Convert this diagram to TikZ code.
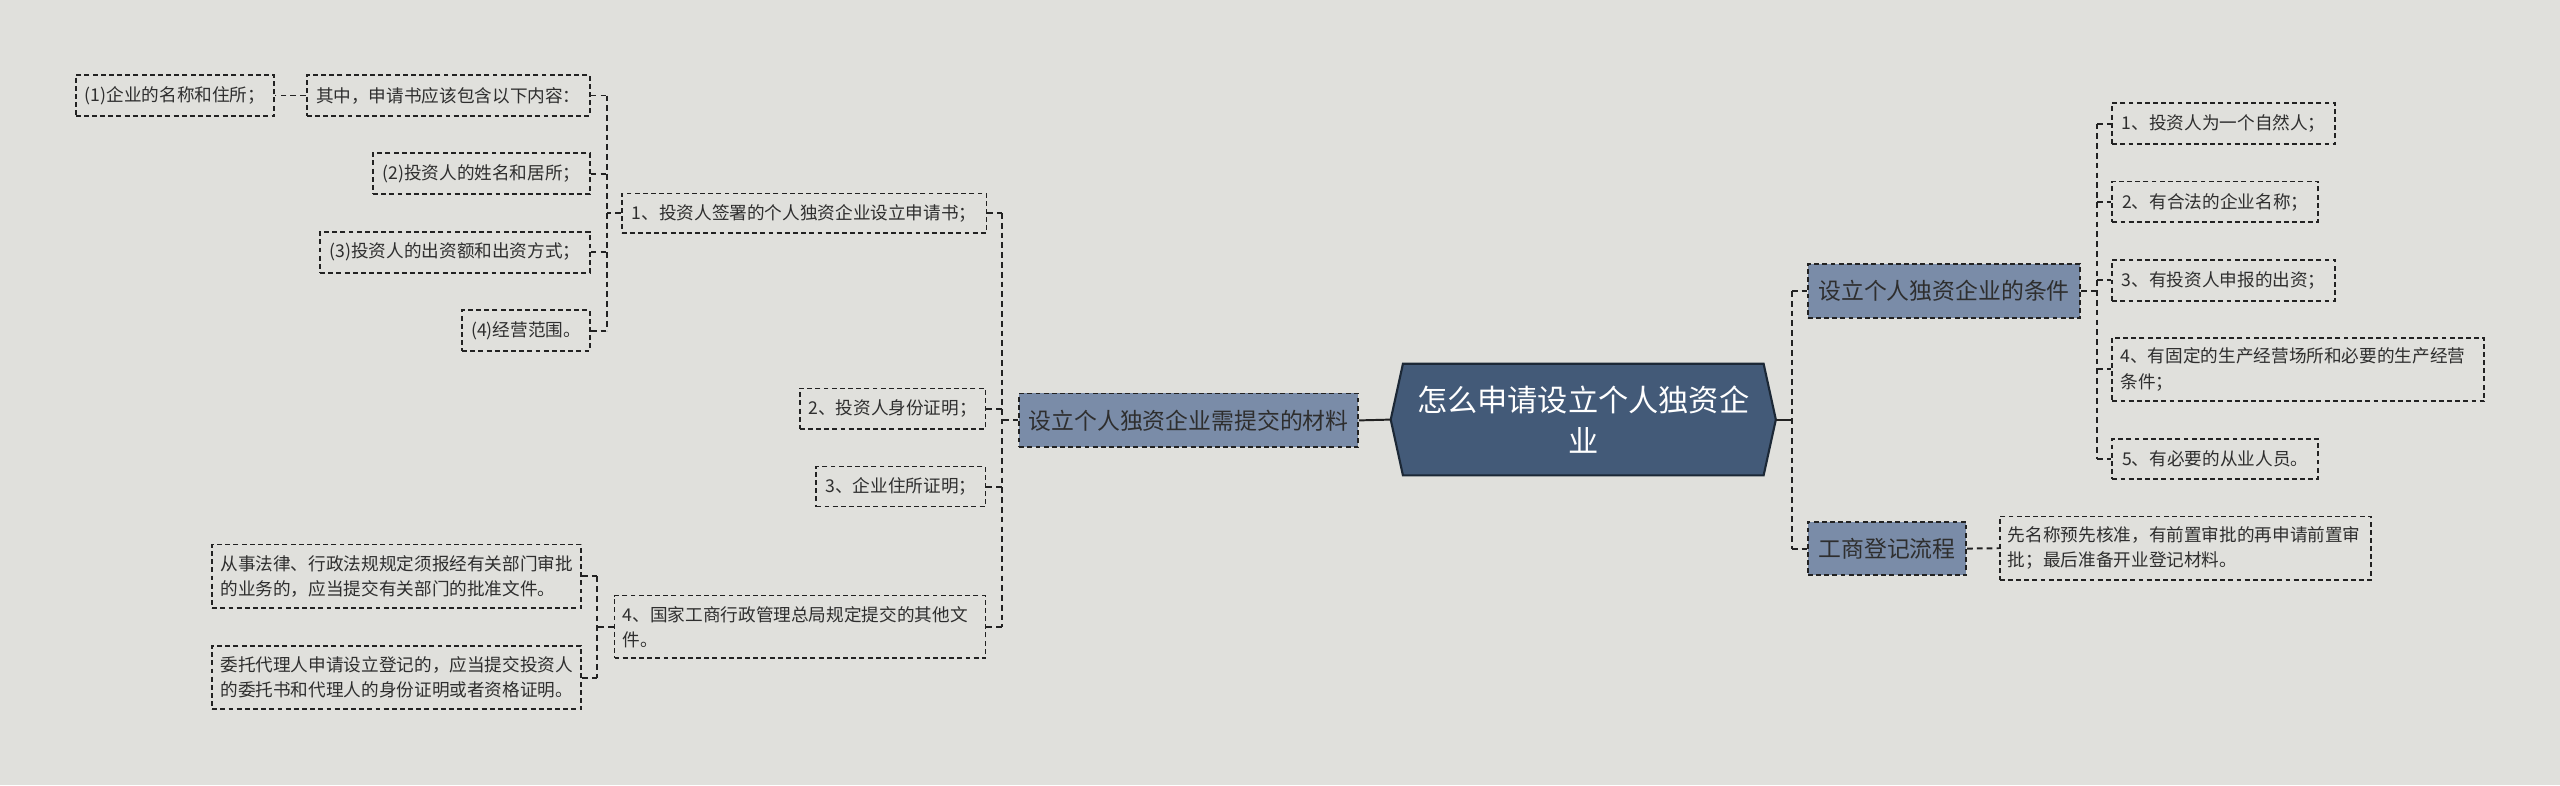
\documentclass[tikz,border=0pt]{standalone}
\usepackage{fontspec}
\setmainfont{Noto Sans CJK SC}
\usetikzlibrary{backgrounds}
\definecolor{bgc}{HTML}{E0E0DC}
\definecolor{linec}{HTML}{222222}
\definecolor{txtc}{HTML}{2E2E2E}
\definecolor{branchc}{HTML}{7A8CA8}
\definecolor{hexc}{HTML}{435A78}
\definecolor{hexline}{HTML}{1C2836}
\tikzset{
  leaf/.style={draw=linec, line width=1.1pt, dash pattern=on 3pt off 2pt, text=txtc,
    font=\fontsize{10.8}{15.5}\selectfont, inner xsep=5pt, inner ysep=0pt, align=center},
  leafml/.style={leaf, align=left},
  branch/.style={draw=linec, line width=1.1pt, dash pattern=on 3pt off 2pt, fill=branchc, text=txtc,
    font=\fontsize{14}{18}\selectfont, inner xsep=5pt, inner ysep=0pt, align=center},
  ctrtext/.style={text=white, font=\fontsize{18.5}{25}\selectfont, align=center, inner sep=0pt},
  conn/.style={draw=linec, line width=1.2pt, dash pattern=on 3.5pt off 2.5pt},
  solidconn/.style={draw=linec, line width=1.2pt},
}
\begin{document}
\begin{tikzpicture}[x=1pt,y=-1pt]
\useasboundingbox (0,0) rectangle (1568,481);
% center
\node[ctrtext, minimum width=235.5pt, minimum height=68pt] (ctr) at (969.75,257) {怎么申请设立个人独资企\\业};
\begin{scope}[on background layer]
  \fill[bgc] (0,0) rectangle (1568,481);
  \draw[fill=hexc, draw=hexline, line width=1.3pt] (ctr.west) -- ([xshift=7.5pt]ctr.north west) -- ([xshift=-7.5pt]ctr.north east) -- (ctr.east) -- ([xshift=-7.5pt]ctr.south east) -- ([xshift=7.5pt]ctr.south west) -- cycle;
\end{scope}
% left branch
\node[branch, minimum width=207.5pt, minimum height=33pt] (mL) at (728,257.5) {设立个人独资企业需提交的材料};
\node[leaf, minimum width=223.5pt, minimum height=24pt] (c1) at (492.5,130.5) {1、投资人签署的个人独资企业设立申请书；};
\node[leaf, minimum width=113.8pt, minimum height=25pt] (c2) at (546.7,250.4) {2、投资人身份证明；};
\node[leaf, minimum width=103.6pt, minimum height=24.5pt] (c3) at (551.8,298) {3、企业住所证明；};
\node[leafml, text width=217pt, minimum width=227.2pt, minimum height=38.4pt] (c4) at (490,384) {4、国家工商行政管理总局规定提交的其他文\\件。};
% children of c1
\node[leaf, minimum width=121.7pt, minimum height=25pt] (la) at (107.2,58.5) {(1)企业的名称和住所；};
\node[leaf, minimum width=173.4pt, minimum height=25pt] (lb) at (274.6,58.5) {其中，申请书应该包含以下内容：};
\node[leaf, minimum width=132.8pt, minimum height=25pt] (lc) at (294.9,106.4) {(2)投资人的姓名和居所；};
\node[leaf, minimum width=165.2pt, minimum height=25pt] (ld) at (278.7,154.5) {(3)投资人的出资额和出资方式；};
\node[leaf, minimum width=78.3pt, minimum height=25pt] (le) at (322.2,202.5) {(4)经营范围。};
% children of c4
\node[leafml, text width=216pt, minimum width=226pt, minimum height=39pt] (d1) at (243,353) {从事法律、行政法规规定须报经有关部门审批\\的业务的，应当提交有关部门的批准文件。};
\node[leafml, text width=216pt, minimum width=226pt, minimum height=39pt] (d2) at (243,415) {委托代理人申请设立登记的，应当提交投资人\\的委托书和代理人的身份证明或者资格证明。};
% right branches
\node[branch, minimum width=167pt, minimum height=33pt] (mR1) at (1190.7,178.3) {设立个人独资企业的条件};
\node[branch, minimum width=97pt, minimum height=32.6pt] (mR2) at (1155.8,336) {工商登记流程};
\node[leaf, minimum width=136.5pt, minimum height=25pt] (r1) at (1362,75.7) {1、投资人为一个自然人；};
\node[leaf, minimum width=126pt, minimum height=25pt] (r2) at (1356.8,123.7) {2、有合法的企业名称；};
\node[leaf, minimum width=136.5pt, minimum height=25pt] (r3) at (1362,171.7) {3、有投资人申报的出资；};
\node[leafml, text width=217.8pt, minimum width=227.8pt, minimum height=39pt] (r4) at (1407.7,226.3) {4、有固定的生产经营场所和必要的生产经营\\条件；};
\node[leaf, minimum width=126pt, minimum height=24.6pt] (r5) at (1356.8,281.2) {5、有必要的从业人员。};
\node[leafml, text width=217.3pt, minimum width=227.3pt, minimum height=38.8pt] (g1) at (1338.5,335.8) {先名称预先核准，有前置审批的再申请前置审\\批；最后准备开业登记材料。};
% trunk coordinates
\coordinate (tL) at (613.5,0);
\coordinate (tC1) at (371.5,0);
\coordinate (tC4) at (365.5,0);
\coordinate (tR) at (1097.5,0);
\coordinate (tR1) at (1284.5,0);
% connectors: center
\draw[solidconn] (ctr.west) -- (mL.east);
\draw[solidconn] (ctr.east) -- (tR |- ctr.east);
% right trunk
\draw[conn] (tR |- mR1.west) -- (tR |- mR2.west);
\draw[conn] (tR |- mR1.west) -- (mR1.west);
\draw[conn] (tR |- mR2.west) -- (mR2.west);
\draw[conn] (mR2.east) -- (g1.west);
\draw[conn] (mR1.east) -- (tR1 |- mR1.east);
\draw[conn] (tR1 |- r1.west) -- (tR1 |- r5.west);
\foreach \n in {r1,r2,r3,r4,r5} \draw[conn] (tR1 |- \n.west) -- (\n.west);
% left trunk
\draw[conn] (mL.west) -- (tL |- mL.west);
\draw[conn] (tL |- c1.east) -- (tL |- c4.east);
\foreach \n in {c1,c2,c3,c4} \draw[conn] (\n.east) -- (tL |- \n.east);
% c1 trunk
\draw[conn] (c1.west) -- (tC1 |- c1.west);
\draw[conn] (tC1 |- lb.east) -- (tC1 |- le.east);
\foreach \n in {lb,lc,ld,le} \draw[conn] (\n.east) -- (tC1 |- \n.east);
\draw[conn] (lb.west) -- (la.east);
% c4 trunk
\draw[conn] (c4.west) -- (tC4 |- c4.west);
\draw[conn] (tC4 |- d1.east) -- (tC4 |- d2.east);
\foreach \n in {d1,d2} \draw[conn] (\n.east) -- (tC4 |- \n.east);
\end{tikzpicture}
\end{document}
